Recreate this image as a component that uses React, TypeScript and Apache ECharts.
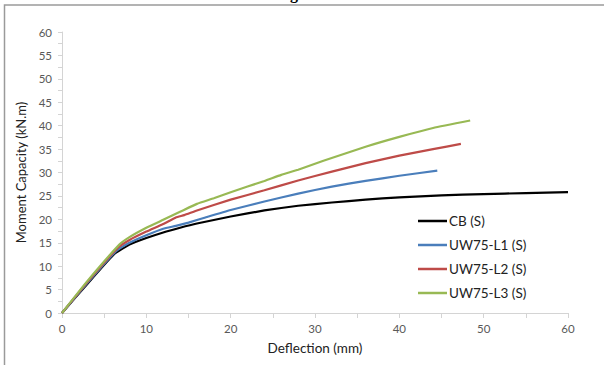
import React, { useEffect, useRef } from "react";
import * as echarts from "echarts";

const seriesNames = ["CB (S)", "UW75-L1 (S)", "UW75-L2 (S)", "UW75-L3 (S)"];
const seriesColors = ["#000000", "#4a7ebb", "#be4b48", "#98b954"];

const cbData: number[][] = [
  [0, 0], [3, 6.2], [6.2, 12.6], [8, 14.6], [10, 16], [12, 17.2], [14, 18.2], [16, 19.1],
  [20, 20.6], [24, 21.9], [28, 22.9], [32, 23.6], [36, 24.2], [40, 24.7], [45, 25.1],
  [50, 25.4], [55, 25.6], [60, 25.8],
];
const l1Data: number[][] = [
  [0, 0], [3, 6.4], [6.4, 13.2], [8, 15], [10, 16.6], [12, 18], [13.5, 18.6], [15, 19.3],
  [17, 20.4], [20, 22], [24, 23.8], [28, 25.5], [32, 27], [36, 28.2], [40, 29.3], [44.5, 30.4],
];
const l2Data: number[][] = [
  [0, 0], [3, 6.6], [6.6, 13.9], [8, 15.6], [10, 17.4], [12, 19], [13.5, 20.4], [14.5, 20.9],
  [16, 21.9], [20, 24.2], [24, 26.2], [28, 28.3], [32, 30.2], [36, 32], [40, 33.6], [44, 35],
  [47.3, 36.1],
];
const l3Data: number[][] = [
  [0, 0], [3, 6.8], [6.8, 14.6], [8, 16.2], [10, 18.2], [12, 19.9], [14, 21.6], [16, 23.3],
  [18, 24.5], [20, 25.8], [24, 28.2], [26, 29.5], [28, 30.6], [31, 32.5], [36, 35.5],
  [40, 37.6], [44, 39.5], [48.4, 41.1],
];
const allData = [cbData, l1Data, l2Data, l3Data];

const xTitle = "Deflection (mm)";
const yTitle = "Moment Capacity (kN.m)";
const captionFragment = "Static Loading";

const FONT = "Lato, 'Liberation Sans', sans-serif";
const AXIS_GRAY = "#d4d4d4";

export default function App() {
  const ref = useRef<HTMLDivElement>(null);
  useEffect(() => {
    if (!ref.current) return;
    const chart = echarts.init(ref.current, undefined, { renderer: "svg" });
    chart.setOption({
      animation: false,
      backgroundColor: "#ffffff",
      textStyle: { fontFamily: FONT },
      grid: { left: 62, right: 36, top: 32, bottom: 52 },
      graphic: [
        {
          type: "rect",
          shape: { x: 4.5, y: 5, width: 700, height: 500 },
          style: { fill: "none", stroke: "#9a9a9a", lineWidth: 1.5 },
          silent: true,
        },
        {
          type: "text",
          x: 248,
          y: -15,
          style: {
            text: captionFragment,
            font: "bold 16px 'Liberation Serif', serif",
            fill: "#000",
            textAlign: "center",
          },
          silent: true,
          z: -1,
        },
      ],
      legend: {
        orient: "vertical",
        left: 413,
        top: 209,
        icon: "rect",
        itemWidth: 29,
        itemHeight: 2.5,
        itemGap: 10,
        textStyle: { fontFamily: FONT, fontSize: 13.5, color: "#222", padding: [0, 0, 0, -3] },
        data: seriesNames,
      },
      xAxis: {
        type: "value",
        min: 0,
        max: 60,
        interval: 10,
        name: xTitle,
        nameLocation: "middle",
        nameGap: 28,
        nameTextStyle: { fontFamily: FONT, fontSize: 13.5, color: "#222" },
        axisLine: { show: true, onZero: false, lineStyle: { color: AXIS_GRAY, width: 1 } },
        axisTick: { show: true, length: 5, lineStyle: { color: AXIS_GRAY } },
        minorTick: { show: true, splitNumber: 2, length: 5, lineStyle: { color: AXIS_GRAY } },
        axisLabel: { fontFamily: FONT, fontSize: 11.5, color: "#595959", margin: 9 },
        splitLine: { show: false },
      },
      yAxis: {
        type: "value",
        min: 0,
        max: 60,
        interval: 5,
        name: yTitle,
        nameLocation: "middle",
        nameGap: 29,
        nameTextStyle: { fontFamily: FONT, fontSize: 13, color: "#222" },
        axisLine: { show: true, lineStyle: { color: AXIS_GRAY, width: 1 } },
        axisTick: { show: true, length: 4, lineStyle: { color: AXIS_GRAY } },
        minorTick: { show: true, splitNumber: 2, length: 4, lineStyle: { color: AXIS_GRAY } },
        axisLabel: { fontFamily: FONT, fontSize: 11.5, color: "#595959", margin: 10 },
        splitLine: { show: false },
      },
      series: seriesNames.map((name, i) => ({
        name,
        type: "line",
        data: allData[i],
        showSymbol: false,
        symbol: "none",
        smooth: 0.15,
        lineStyle: { color: seriesColors[i], width: 2.2 },
        itemStyle: { color: seriesColors[i] },
        z: 2 + i,
      })),
    });
    return () => chart.dispose();
  }, []);
  return (
    <div
      ref={ref}
      style={{ position: "fixed", left: 0, top: 0, width: 604, height: 365 }}
    />
  );
}
